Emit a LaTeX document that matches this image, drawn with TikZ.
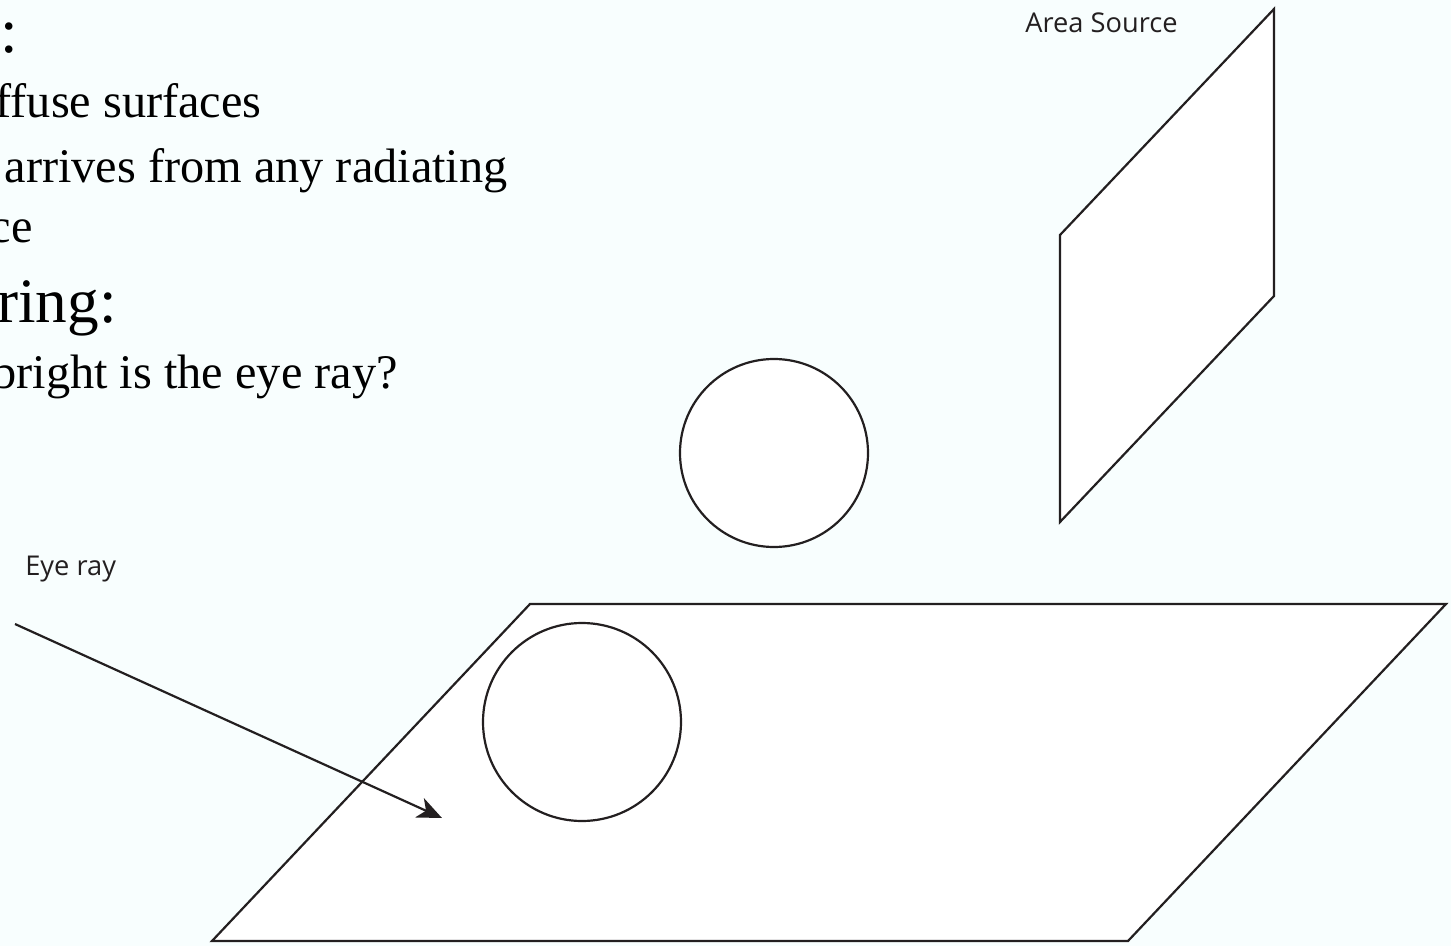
\documentclass[tikz,border=0pt]{standalone}
\usepackage{fontspec}
\setmainfont{Liberation Serif}
\newfontfamily\labelfont{Open Sans}
\usetikzlibrary{arrows.meta}
\definecolor{slidebg}{HTML}{F8FEFE}
\definecolor{ink}{HTML}{231F20}

\begin{document}
\begin{tikzpicture}[
  x=0.02cm, y=-0.02cm,
  outline/.style={
    draw=ink, line width=1.25pt, fill=white, line join=miter
  },
  bullet/.style={
    anchor=base east, inner sep=0pt, text=black,
    font=\fontsize{27.5}{33}\selectfont
  },
  heading/.style={
    anchor=base east, inner sep=0pt, text=black,
    font=\fontsize{36}{43}\selectfont
  },
  tag/.style={
    anchor=base west, inner sep=0pt, text=ink,
    font=\labelfont\fontsize{15.5}{18}\selectfont
  },
  arr/.style={
    -{Stealth[length=14pt, width=12pt, inset=4pt]}, draw=ink, line width=1.25pt
  }
]

% Slide background
\fill[slidebg] (0,0) rectangle (1451,946);
\useasboundingbox (0,0) rectangle (1451,946);
\clip (0,0) rectangle (1451,946);

% Slide text (cut at the left edge)
\node[heading] (colon) at (18,53) {:};
\node[bullet] (diffuse) at (262,118) {ffuse surfaces};
\node[bullet] (arrives) at (508,182) {arrives from any radiating};
\node[bullet] (surf) at (33,242) {ce};
\node[heading] (render) at (117,322) {ring:};
\node[bullet] (bright) at (398,388) {bright is the eye ray?};

% Floor and objects
\draw[outline] (530,604) -- (1446,604) -- (1128,941) -- (212,941) -- cycle;
\draw[outline] (582,722) circle (99);
\draw[outline] (774,453) circle (94);

% Area source
\draw[outline] (1060,235) -- (1274,9) -- (1274,296) -- (1060,522) -- cycle;
\node[tag] (srclabel) at (1025,33) {Area Source};

% Eye ray
\coordinate (eye) at (15,624);
\coordinate (hit) at (442,818);
\draw[arr] (eye) -- (hit);
\node[tag] (raylabel) at (25,575) {Eye ray};

\end{tikzpicture}
\end{document}
